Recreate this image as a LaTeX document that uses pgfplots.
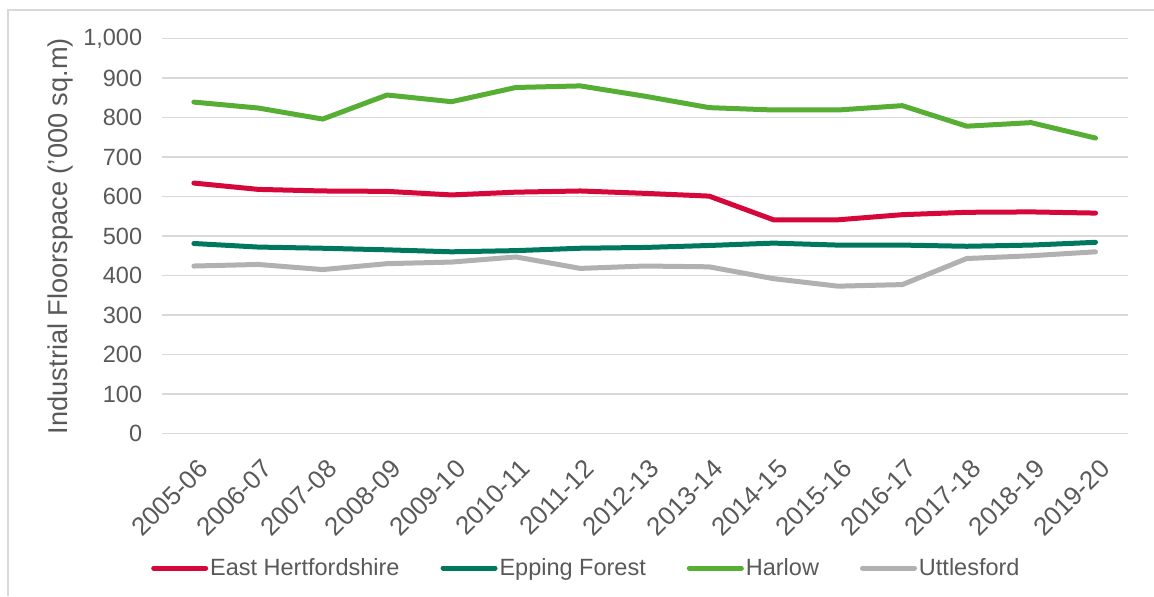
\documentclass[border=0pt]{standalone}
\usepackage{fontspec}
\setmainfont{Liberation Sans}
\usepackage{pgfplots}
\pgfplotsset{compat=1.18}

\definecolor{txtgray}{HTML}{595959}
\definecolor{gridgray}{HTML}{D9D9D9}
\definecolor{framegray}{HTML}{D9D9D9}
\definecolor{eastherts}{HTML}{D6083B}
\definecolor{epping}{HTML}{00775F}
\definecolor{harlow}{HTML}{57AE35}
\definecolor{uttles}{HTML}{B1B1B1}

\newcommand{\chartfont}{\fontsize{11.75}{14}\selectfont}
\newcommand{\xtickfont}{\fontsize{12.9}{15}\selectfont}
\newcommand{\labelfont}{\fontsize{13.6}{16}\selectfont}

\begin{document}
\begin{tikzpicture}
\useasboundingbox (0,0) rectangle (577pt,298pt);
% chart area frame
\draw[framegray, line width=0.7pt] (4pt,0) -- (4pt,293pt) -- (577pt,293pt);
\begin{axis}[
  at={(80.85pt,81.25pt)}, anchor=south west,
  scale only axis,
  width=483pt, height=197.5pt,
  xmin=-0.5, xmax=14.5,
  ymin=0, ymax=1000,
  ytick={0,100,...,1000},
  xtick={0,...,14},
  xticklabels={2005-06,2006-07,2007-08,2008-09,2009-10,2010-11,2011-12,2012-13,2013-14,2014-15,2015-16,2016-17,2017-18,2018-19,2019-20},
  axis line style={draw=none},
  major tick length=0pt,
  ymajorgrids,
  grid style={gridgray, line width=0.65pt},
  /pgf/number format/assume math mode=true,
  /pgf/number format/1000 sep={,},
  yticklabel style={font=\chartfont, text=txtgray, anchor=east, inner sep=0pt, xshift=-9.6pt},
  xticklabel style={font=\xtickfont, text=txtgray, xshift=1.5pt, yshift=-12pt, rotate=45, anchor=north east, inner sep=0pt},
  ylabel={Industrial Floorspace ('000 sq.m)},
  ylabel style={font=\labelfont, text=txtgray, at={(axis description cs:-0.1053,0.5)}, anchor=center, rotate=0},
  legend columns=4,
  legend style={
    at={(axis description cs:0.4396,-0.3405)}, anchor=center,
    draw=none, fill=none, font=\chartfont, text=txtgray,
    inner sep=0pt,
    nodes={inner sep=1pt},
    /tikz/every even column/.append style={column sep=19.5pt},
  },
  legend cell align=left,
  legend image code/.code={\draw[line width=2.5pt, line cap=round] (0pt,0pt) -- (26pt,0pt);},
  every axis plot/.append style={line width=2.5pt, line join=round, line cap=round},
]
\addplot[eastherts] coordinates {
  (0,634) (1,618) (2,614) (3,613) (4,604) (5,611) (6,614) (7,608)
  (8,601) (9,541) (10,541) (11,554) (12,560) (13,561) (14,558)};
\addlegendentry{East Hertfordshire}
\addplot[epping] coordinates {
  (0,481) (1,472) (2,469) (3,465) (4,460) (5,463) (6,469) (7,471)
  (8,476) (9,482) (10,477) (11,477) (12,474) (13,477) (14,484)};
\addlegendentry{Epping Forest}
\addplot[harlow] coordinates {
  (0,839) (1,824) (2,796) (3,857) (4,840) (5,876) (6,880) (7,854)
  (8,825) (9,819) (10,819) (11,830) (12,778) (13,787) (14,748)};
\addlegendentry{Harlow}
\addplot[uttles] coordinates {
  (0,424) (1,428) (2,415) (3,430) (4,434) (5,447) (6,418) (7,424)
  (8,422) (9,392) (10,373) (11,377) (12,443) (13,450) (14,460)};
\addlegendentry{Uttlesford}
\end{axis}
\end{tikzpicture}
\end{document}
